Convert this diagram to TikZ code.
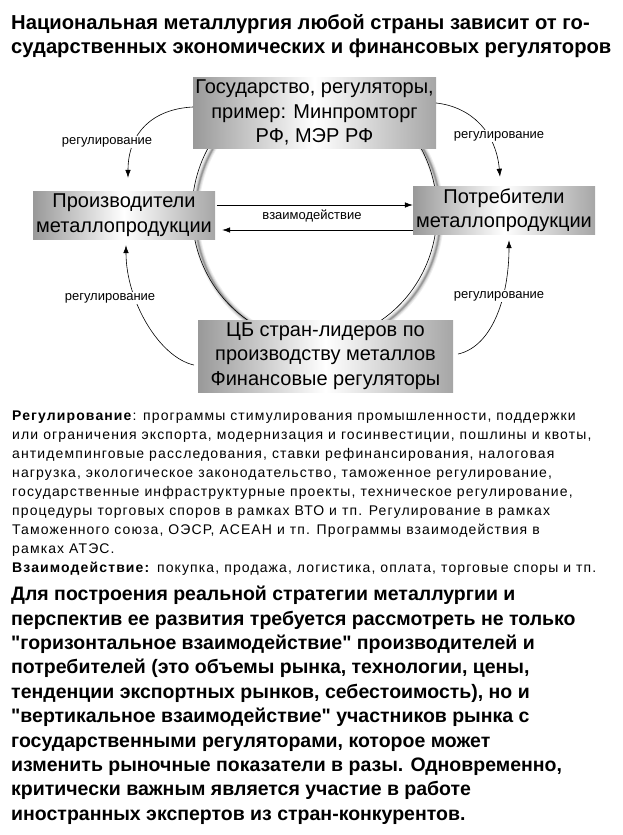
\documentclass[tikz,border=0pt]{standalone}
\usepackage{fontspec}
\setmainfont{Liberation Sans}[Ligatures=TeXOff]
\newfontfamily\notefont{Liberation Sans}[LetterSpace=8,Ligatures=TeXOff]
\usetikzlibrary{arrows.meta,positioning}
\tikzset{
	regbox/.style={inner sep=0pt, align=center, font=\fontsize{20}{24.5}\selectfont,
		left color=gray!80, right color=gray!70, middle color=white},
	reglabel/.style={font=\fontsize{13}{14}\selectfont, fill=white, inner sep=1pt},
	link/.style={-{Latex[length=8pt,width=5.5pt]}, line width=0.6pt},
}
\begin{document}
\begin{tikzpicture}[x=1pt, y=-1pt, line join=round, line cap=round]
	\useasboundingbox (0,0) rectangle (623,835);
	\node[anchor=north west, inner sep=0pt, align=left, font=\bfseries\fontsize{20.2}{24}\selectfont] (title) at (11,14)
		{Национальная металлургия любой страны зависит от го-\\сударственных экономических и финансовых регуляторов};
	% ellipse with its shadow
	\foreach \w/\o in {7/0.06, 5/0.09, 3/0.13, 1.5/0.2}
		\draw[line width=\w pt, black, opacity=\o] (318,215) ellipse [x radius=122.5, y radius=129];
	\draw[line width=0.6pt] (314.5,212) ellipse [x radius=122.5, y radius=129];
	% boxes
	\node[regbox, minimum width=243pt, minimum height=71pt] (gov) at (314.5,112.5) {Государство, регуляторы,\\пример: Минпромторг\\РФ, МЭР РФ};
	\node[regbox, minimum width=182pt, minimum height=48pt] (prod) at (124,215) {Производители\\металлопродукции};
	\node[regbox, minimum width=182pt, minimum height=48pt] (cons) at (504,210) {Потребители\\металлопродукции};
	\node[regbox, minimum width=255pt, minimum height=72pt] (cb) at (325.5,356) {ЦБ стран-лидеров по\\производству металлов\\Финансовые регуляторы};
	% connectors
	\draw[link] ([yshift=5.5pt]gov.west) .. controls +(-40,2) and +(0,-45) .. ([xshift=4pt,yshift=13pt]prod.north);
	\draw[link] ([yshift=9.5pt]gov.east) .. controls +(35,4) and +(-4,-45) .. ([xshift=-4pt,yshift=9pt]cons.north);
	\draw[link] ([xshift=-4pt,yshift=-9pt]cb.west) .. controls +(-35,-8) and +(0,55) .. ([xshift=2pt,yshift=-6pt]prod.south);
	\draw[link] ([xshift=5pt,yshift=2pt]cb.east) .. controls +(35,-8) and +(0,55) .. ([xshift=5pt,yshift=-6pt]cons.south);
	\draw[link] ([xshift=2pt,yshift=10pt]prod.east) -- ([yshift=10pt]prod.east -| cons.west);
	\draw[link] ([yshift=-15pt]prod.east -| cons.west) -- ([xshift=7pt,yshift=-15pt]prod.east);
	% labels
	\node[reglabel] (regA) at (107,142) {регулирование};
	\node[reglabel] (regB) at (499,136) {регулирование};
	\node[reglabel] (regC) at (110,298) {регулирование};
	\node[reglabel] (regD) at (499,296) {регулирование};
	\node[reglabel, fill=none] (inter) at (312,216) {взаимодействие};
	% texts below
	\node[anchor=north west, inner sep=0pt, align=left, font=\notefont\fontsize{14}{18.9}\selectfont] (notes) at (12,411)
		{\textbf{Регулирование}: программы стимулирования промышленности, поддержки\\
		или ограничения экспорта, модернизация и госинвестиции, пошлины и квоты,\\
		антидемпинговые расследования, ставки рефинансирования, налоговая\\
		нагрузка, экологическое законодательство, таможенное регулирование,\\
		государственные инфраструктурные проекты, техническое регулирование,\\
		процедуры торговых споров в рамках ВТО и тп. Регулирование в рамках\\
		Таможенного союза, ОЭСР, АСЕАН и тп. Программы взаимодействия в\\
		рамках АТЭС.\\
		\textbf{Взаимодействие:} покупка, продажа, логистика, оплата, торговые споры и тп.};
	\node[anchor=north west, inner sep=0pt, align=left, font=\bfseries\fontsize{19.5}{24.4}\selectfont] (summary) at (11,586)
		{Для построения реальной стратегии металлургии и\\
		перспектив ее развития требуется рассмотреть не только\\
		"горизонтальное взаимодействие" производителей и\\
		потребителей (это объемы рынка, технологии, цены,\\
		тенденции экспортных рынков, себестоимость), но и\\
		"вертикальное взаимодействие" участников рынка с\\
		государственными регуляторами, которое может\\
		изменить рыночные показатели в разы. Одновременно,\\
		критически важным является участие в работе\\
		иностранных экспертов из стран-конкурентов.};
\end{tikzpicture}
\end{document}
